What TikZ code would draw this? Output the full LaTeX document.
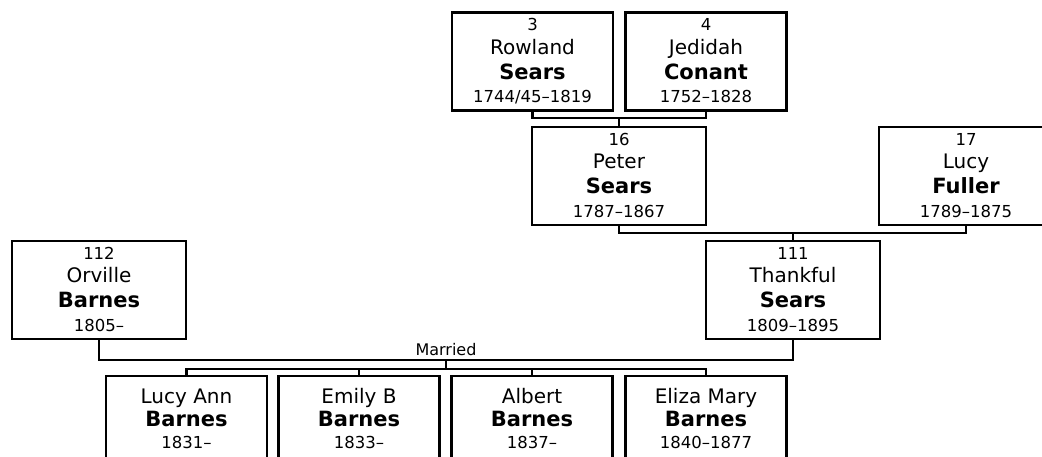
\documentclass[tikz,border=0pt]{standalone}
\usepackage{fontspec}
\setmainfont{DejaVu Sans}
\newcommand\anc[4]{\raisebox{-5pt}[0pt][0pt]{\fontsize{16.5}{23.5}\selectfont
  \begin{tabular}{@{}c@{}}#1\\\fontsize{20}{24}\selectfont #2\\[1.5pt]\fontsize{21}{24}\selectfont\bfseries #3\\#4\end{tabular}}}
\newcommand\kid[3]{\raisebox{-1pt}[0pt][0pt]{\fontsize{16.5}{22.5}\selectfont
  \begin{tabular}{@{}c@{}}\fontsize{20}{24}\selectfont #1\\\fontsize{21}{24}\selectfont\bfseries #2\\#3\end{tabular}}}
\begin{document}
\begin{tikzpicture}[x=1pt,y=-1pt,
  box/.style={draw, line width=2.7pt, inner sep=0pt, minimum height=98pt},
  wide/.style={box, minimum width=174pt},
  narrow/.style={box, minimum width=161pt},
  link/.style={line width=2.7pt}]
\useasboundingbox (0,0) rectangle (1042,457);
% top generation
\node[narrow] (p3) at (532.5,61.5) {\anc{3}{Rowland}{Sears}{1744/45--1819}};
\node[narrow] (p4) at (706,61.5) {\anc{4}{Jedidah}{Conant}{1752--1828}};
% second generation
\node[wide] (p16) at (619,176) {\anc{16}{Peter}{Sears}{1787--1867}};
\node[wide] (p17) at (966,176) {\anc{17}{Lucy}{Fuller}{1789--1875}};
% third generation
\node[wide] (p112) at (99,290) {\anc{112}{Orville}{Barnes}{1805--}};
\node[wide] (p111) at (793,290) {\anc{111}{Thankful}{Sears}{1809--1895}};
% children
\node[narrow] (c1) at (186.5,425) {\kid{Lucy Ann}{Barnes}{1831--}};
\node[narrow] (c2) at (359,425) {\kid{Emily B}{Barnes}{1833--}};
\node[narrow] (c3) at (532,425) {\kid{Albert}{Barnes}{1837--}};
\node[narrow] (c4) at (706,425) {\kid{Eliza Mary}{Barnes}{1840--1877}};
% connectors
\coordinate (m1) at (619,118);
\draw[link] (p3.south) |- (m1) -| (p4.south);
\draw[link] (m1) -- (p16.north);
\coordinate (m2) at (793,233);
\draw[link] (p16.south) |- (m2) -| (p17.south);
\draw[link] (m2) -- (p111.north);
\coordinate (m3) at (446,360);
\draw[link] (p112.south) |- (m3) -| (p111.south);
\node[anchor=base, inner sep=0pt, font=\fontsize{16}{18}\selectfont] (lbl) at (446,355) {Married};
\coordinate (m4) at (446,369);
\draw[link] (m3) -- (m4);
\draw[link] (c1.north) |- (m4) -| (c4.north);
\draw[link] (c2.north) -- (c2.north |- m4);
\draw[link] (c3.north) -- (c3.north |- m4);
\end{tikzpicture}
\end{document}
